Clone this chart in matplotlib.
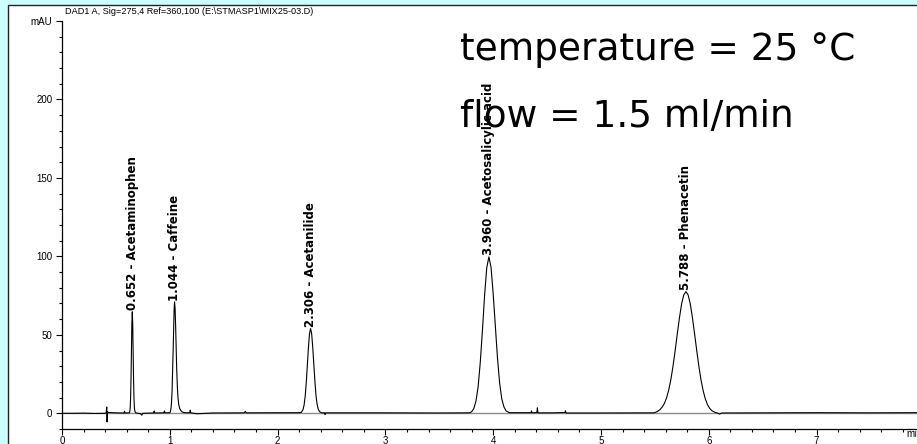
import matplotlib
matplotlib.use("Agg")
import matplotlib.pyplot as plt
from matplotlib.patches import Rectangle
from matplotlib.ticker import MultipleLocator

# chromatogram trace (time in min, signal in mAU)
trace_time = [0.00, 0.10, 0.20, 0.30, 0.40, 0.410, 0.415, 0.418, 0.422, 0.43, 0.50, 0.575, 0.58, 0.585,
              0.626, 0.632, 0.636, 0.640, 0.644, 0.648, 0.652, 0.656, 0.660, 0.664, 0.668, 0.672, 0.677, 0.685,
              0.73, 0.74, 0.75, 0.85, 0.855, 0.86, 0.945, 0.95, 0.955,
              1.000, 1.006, 1.011, 1.016, 1.021, 1.026, 1.031, 1.036, 1.040, 1.044, 1.049, 1.054, 1.059,
              1.064, 1.070, 1.076, 1.083, 1.092, 1.105, 1.12, 1.15, 1.185, 1.19, 1.195, 1.25, 1.40,
              1.69, 1.70, 1.71, 2.00, 2.20,
              2.220, 2.236, 2.246, 2.256, 2.266, 2.276, 2.286, 2.296, 2.306, 2.316, 2.326, 2.336, 2.346,
              2.356, 2.366, 2.376, 2.390, 2.410, 2.435, 2.44, 2.445, 2.50, 3.00, 3.50, 3.78,
              3.80, 3.82, 3.84, 3.86, 3.88, 3.90, 3.92, 3.94, 3.96, 3.98, 4.00, 4.02, 4.04, 4.06, 4.08,
              4.10, 4.12, 4.15, 4.35, 4.355, 4.36, 4.405, 4.41, 4.415, 4.55, 4.665, 4.67, 4.675,
              5.00, 5.49, 5.52, 5.548, 5.568, 5.588, 5.608, 5.628, 5.648, 5.668, 5.688, 5.708, 5.728,
              5.748, 5.768, 5.788, 5.808, 5.828, 5.848, 5.868, 5.888, 5.908, 5.928, 5.948, 5.968,
              5.988, 6.008, 6.028, 6.058, 6.08, 6.10, 6.12, 6.50, 7.00, 7.50, 7.93]
trace_mau = [0.0, 0.0, 0.1, -0.1, 0.0, 0.3, 4.0, -5.5, 1.0, 0.5, 0.3, 0.2, 1.3, 0.2,
             0.3, 2.8, 8.7, 21.0, 39.0, 57.0, 64.7, 57.0, 39.0, 21.0, 9.0, 3.2, 1.0, 0.3,
             -0.3, -1.2, 0.0, 0.2, 1.5, 0.2, 0.3, 1.5, 0.3,
             0.4, 1.2, 3.1, 7.0, 14.0, 26.0, 40.0, 55.0, 66.0, 71.0, 67.0, 56.0, 42.0,
             28.0, 17.0, 10.0, 5.5, 3.0, 1.5, 0.7, 0.3, 0.4, 2.0, 0.3, -0.3, 0.2,
             0.3, 1.2, 0.3, 0.4, 0.4,
             0.6, 2.4, 5.4, 10.9, 19.6, 30.4, 41.9, 50.7, 54.0, 50.7, 42.0, 31.0, 20.5,
             11.5, 6.0, 2.8, 1.0, 0.3, 0.3, -0.8, 0.3, 0.3, 0.3, 0.2, 0.3,
             1.0, 3.0, 7.7, 16.8, 32.4, 52.7, 75.0, 92.7, 99.7, 93.0, 76.0, 55.0, 35.0, 19.0, 9.0,
             4.0, 1.5, 0.4, 0.4, 1.5, 0.3, 0.5, 3.5, 0.3, 0.3, 0.5, 1.6, 0.2,
             0.2, 0.3, 1.0, 2.4, 4.0, 6.3, 9.8, 14.8, 21.5, 30.0, 40.0, 50.8, 61.0,
             69.8, 75.5, 77.5, 75.5, 69.8, 61.0, 50.8, 40.0, 29.9, 21.2, 14.3, 9.1,
             5.5, 3.2, 1.7, 0.6, 0.2, -0.5, 0.2, 0.3, 0.4, 0.3, 0.4]

peak_rt = [0.652, 1.044, 2.306, 3.960, 5.788]
peak_height = [64.7, 71.0, 54.0, 99.7, 77.5]
peak_names = ["Acetaminophen", "Caffeine", "Acetanilide", "Acetosalicylic acid", "Phenacetin"]

fig = plt.figure(figsize=(9.17, 4.44), dpi=100)
fig.patch.set_facecolor("#ccffff")
fig.add_artist(Rectangle((7.5 / 917, -0.1), 1.0, (444 - 5.5) / 444 + 0.1, transform=fig.transFigure,
                         facecolor="white", edgecolor="#222222", linewidth=1, zorder=-10))

ax = fig.add_axes([62 / 917, 15 / 444, 855 / 917, 408 / 444])
ax.patch.set_alpha(0)
ax.set_xlim(0, 855 / 107.8)
ax.set_ylim(-10, 250)

ax.axhline(0, color="#8c8c8c", linewidth=1.0, zorder=1)
ax.plot(trace_time, trace_mau, color="black", linewidth=0.8, zorder=2)

for rt, h, name in zip(peak_rt, peak_height, peak_names):
    ax.annotate("{:.3f} - {}".format(rt, name), (rt, h), xytext=(0, 1), textcoords="offset points",
                rotation=90, ha="center", va="bottom", fontsize=8.5, fontweight="bold",
                family="DejaVu Sans", zorder=3)

for s in ["top", "right"]:
    ax.spines[s].set_visible(False)
for s in ["left", "bottom"]:
    ax.spines[s].set_linewidth(0.9)

ax.xaxis.set_major_locator(MultipleLocator(1))
ax.xaxis.set_minor_locator(MultipleLocator(0.2))
ax.set_yticks([0, 50, 100, 150, 200, 250])
ax.set_yticklabels(["0", "50", "100", "150", "200", "mAU"])
ax.yaxis.set_minor_locator(MultipleLocator(10))
ax.tick_params(which="major", direction="out", length=4, width=0.8, labelsize=7, pad=1)
ax.tick_params(which="minor", direction="out", length=2.2, width=0.8)
ax.tick_params(axis="y", which="major", pad=3)
for lab in ax.get_xticklabels() + ax.get_yticklabels():
    lab.set_family("Liberation Sans")
ax.text(7.83, -10, "min", ha="left", va="top", fontsize=7,
        family="Liberation Sans", clip_on=False)

fig.text(65 / 917, 1 - 11 / 444, "DAD1 A, Sig=275,4 Ref=360,100 (E:\\STMASP1\\MIX25-03.D)",
         ha="left", va="center", fontsize=6.6, family="Liberation Sans")
fig.text(460 / 917, 1 - 60 / 444, "temperature = 25 \u00b0C", ha="left", va="baseline",
         fontsize=27, family="DejaVu Sans", zorder=5)
fig.text(460 / 917, 1 - 126.7 / 444, "flow = 1.5 ml/min", ha="left", va="baseline",
         fontsize=27, family="DejaVu Sans", zorder=5)

fig.savefig("out.png", dpi=100, facecolor=fig.get_facecolor())
